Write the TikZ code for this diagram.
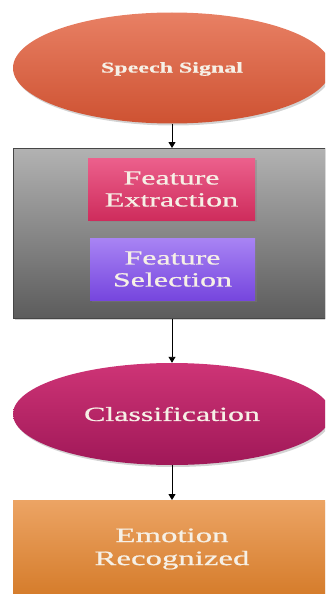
\documentclass[tikz,border=0pt]{standalone}
\usepackage{fontspec}
\setmainfont{Liberation Serif}
\newfontfamily\widefont[FakeStretch=1.6,FakeBold=0.8]{Liberation Serif}
\usetikzlibrary{shapes.geometric,shadows,arrows.meta}
\definecolor{txt}{HTML}{F6F0E6}
\tikzset{
  lbl/.style={text=txt, align=center, font=\widefont\fontsize{20}{22}\selectfont},
  shad/.style={drop shadow={shadow xshift=1.5pt, shadow yshift=-2pt, opacity=0.35}},
  conn/.style={-{Triangle[length=6pt,width=7pt]}, line width=0.9pt, black},
}
\begin{document}
\begin{tikzpicture}[x=1pt,y=-1pt]
\useasboundingbox (0,0) rectangle (325,594);
\clip (0,0) rectangle (325,594);
% Speech signal ellipse
\node[ellipse, minimum width=318, minimum height=111, top color={rgb,255:red,232;green,128;blue,100}, bottom color={rgb,255:red,206;green,82;blue,50}, shad, inner sep=0] (speech) at (172,68) {};
\node[lbl, font=\widefont\bfseries\fontsize{15}{17}\selectfont] (speecht) at (172,69) {Speech Signal};
% gray container
\node[rectangle, draw={rgb,255:red,70;green,70;blue,70}, line width=0.8pt, minimum width=312, minimum height=170, anchor=north west, top color={rgb,255:red,178;green,178;blue,178}, bottom color={rgb,255:red,92;green,92;blue,92}, shad, inner sep=0] (box) at (13,148) {};
% feature extraction
\node[rectangle, minimum width=167, minimum height=62, anchor=north west, top color={rgb,255:red,236;green,96;blue,140}, bottom color={rgb,255:red,206;green,44;blue,92}, shad, inner sep=0] (fe) at (88,158) {};
\node[lbl] (fet) at (171.5,189) {Feature\\Extraction};
% feature selection
\node[rectangle, minimum width=165, minimum height=62, anchor=north west, top color={rgb,255:red,168;green,132;blue,244}, bottom color={rgb,255:red,118;green,70;blue,222}, shad, inner sep=0] (fs) at (90,238) {};
\node[lbl] (fst) at (172.5,269) {Feature\\Selection};
% classification
\node[ellipse, minimum width=318, minimum height=102, top color={rgb,255:red,206;green,52;blue,118}, bottom color={rgb,255:red,160;green,24;blue,88}, shad, inner sep=0] (cls) at (172,414) {};
\node[lbl] (clst) at (172,414) {Classification};
% emotion recognized
\node[rectangle, minimum width=312, minimum height=100, anchor=north west, top color={rgb,255:red,236;green,164;blue,100}, bottom color={rgb,255:red,212;green,122;blue,40}, shad, inner sep=0] (emo) at (13,500) {};
\node[lbl, font=\widefont\fontsize{20.5}{23}\selectfont] (emot) at (172,549) {Emotion\\Recognized};
% connectors
\draw[conn] (speech.south) -- (box.north -| speech.south);
\draw[conn] (box.south -| speech.south) -- (cls.north);
\draw[conn] (cls.south) -- (emo.north -| cls.south);
\end{tikzpicture}
\end{document}
